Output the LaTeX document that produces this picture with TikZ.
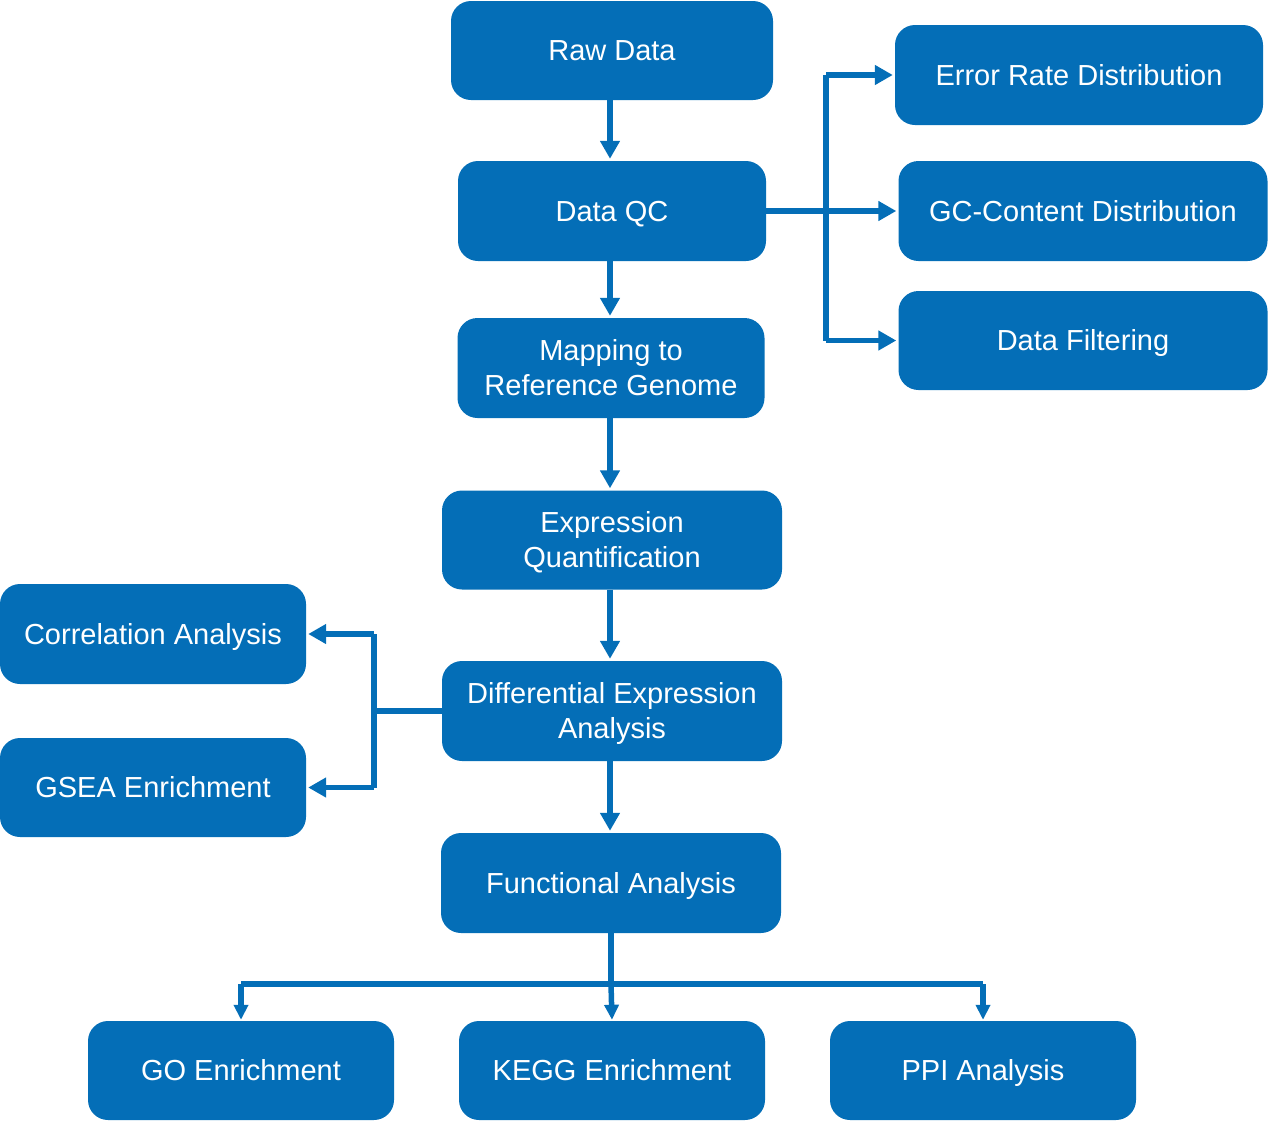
\documentclass[tikz,border=0pt]{standalone}
\usepackage{fontspec}
\setmainfont{Liberation Sans}
\usetikzlibrary{arrows.meta}
\definecolor{flowblue}{RGB}{4,110,183}
\newcommand{\cl}[1]{\raisebox{0pt}[0.716em][0pt]{#1}}
\begin{document}
\begin{tikzpicture}[x=1pt,y=-1pt,
  box/.style={fill=flowblue, rounded corners=20pt, inner sep=0pt, align=center,
    text=white, font=\fontsize{29}{35}\selectfont},
  conn/.style={draw=flowblue, line width=5.5pt},
  arr/.style={conn, -{Triangle[length=18pt,width=19pt]}, shorten >=2pt},
  arrs/.style={conn, -{Triangle[length=15pt,width=14pt]}, shorten >=1pt}]
\useasboundingbox (0,0) rectangle (1269,1122);
\node[box, minimum width=322pt, minimum height=99pt] (raw) at (612,50.5) {\cl{Raw Data}};
\node[box, minimum width=308pt, minimum height=100pt] (qc) at (612,211) {\cl{Data QC}};
\node[box, minimum width=307pt, minimum height=100pt] (map) at (611,368) {\cl{Mapping to}\\\cl{Reference Genome}};
\node[box, minimum width=340pt, minimum height=99pt] (expr) at (612,540) {\cl{Expression}\\\cl{Quantification}};
\node[box, minimum width=340pt, minimum height=100pt] (dea) at (612,711) {\cl{Differential Expression}\\\cl{Analysis}};
\node[box, minimum width=340pt, minimum height=100pt] (func) at (611,883) {\cl{Functional Analysis}};
\node[box, minimum width=306pt, minimum height=99pt] (go) at (241,1070.5) {\cl{GO Enrichment}};
\node[box, minimum width=306pt, minimum height=99pt] (kegg) at (612,1070.5) {\cl{KEGG Enrichment}};
\node[box, minimum width=306pt, minimum height=99pt] (ppi) at (983,1070.5) {\cl{PPI Analysis}};
\node[box, minimum width=306pt, minimum height=100pt] (corr) at (153,634) {\cl{Correlation Analysis}};
\node[box, minimum width=306pt, minimum height=99pt] (gsea) at (153,787.5) {\cl{GSEA Enrichment}};
\node[box, minimum width=368pt, minimum height=100pt] (err) at (1079,75) {\cl{Error Rate Distribution}};
\node[box, minimum width=369pt, minimum height=100pt] (gc) at (1083,211) {\cl{GC-Content Distribution}};
\node[box, minimum width=369pt, minimum height=99pt] (filt) at (1083,340.5) {\cl{Data Filtering}};
% main chain
\draw[arr] (raw.south -| 610,0) -- (qc.north -| 610,0);
\draw[arr] (qc.south -| 610,0) -- (map.north -| 610,0);
\draw[arr] (map.south -| 610,0) -- (expr.north -| 610,0);
\draw[arr] (expr.south -| 610,0) -- (dea.north -| 610,0);
\draw[arr] (dea.south -| 610,0) -- (func.north -| 610,0);
% QC branches
\coordinate (qb) at (826,211);
\draw[conn] (qc.east) -- (qb);
\draw[conn] (qb |- err.west) -- (qb |- filt.west);
\draw[arr] (qb |- err.west) -- (err.west);
\draw[arr] (qb) -- (gc.west);
\draw[arr] (qb |- filt.west) -- (filt.west);
% DEA branches
\coordinate (db) at (374,711);
\draw[conn] (dea.west) -- (db);
\draw[conn] (db |- corr.east) -- (db |- gsea.east);
\draw[arr] (db |- corr.east) -- (corr.east);
\draw[arr] (db |- gsea.east) -- (gsea.east);
% functional branches
\coordinate (fb) at (611,984);
\draw[conn] (func.south) -- (fb);
\draw[conn] (go.north |- fb) -- (ppi.north |- fb);
\draw[arrs] (go.north |- fb) -- (go.north);
\draw[arrs] (fb) -- (kegg.north);
\draw[arrs] (ppi.north |- fb) -- (ppi.north);
\end{tikzpicture}
\end{document}
